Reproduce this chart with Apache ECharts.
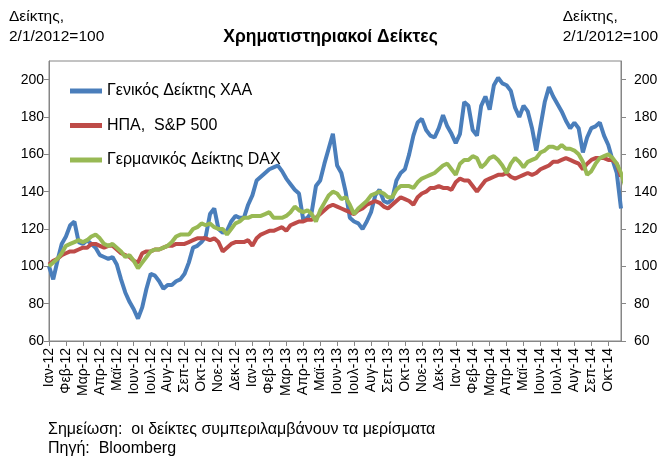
<!DOCTYPE html>
<html>
<head>
<meta charset="utf-8">
<script src="https://cdn.jsdelivr.net/npm/echarts@6/dist/echarts.min.js"></script>
<style>
  html, body { margin: 0; padding: 0; background: #fff; }
  #mychart { width: 661px; height: 459px; }
</style>
</head>
<body>
<div id="mychart"></div>
<script>
// μήνες στον άξονα (4 εβδομαδιαίες τιμές ανά μήνα)
var monthLabels = ['Ιαν-12','Φεβ-12','Μαρ-12','Απρ-12','Μαϊ-12','Ιουν-12','Ιουλ-12','Αυγ-12','Σεπ-12','Οκτ-12','Νοε-12','Δεκ-12',
  'Ιαν-13','Φεβ-13','Μαρ-13','Απρ-13','Μαϊ-13','Ιουν-13','Ιουλ-13','Αυγ-13','Σεπ-13','Οκτ-13','Νοε-13','Δεκ-13',
  'Ιαν-14','Φεβ-14','Μαρ-14','Απρ-14','Μαϊ-14','Ιουν-14','Ιουλ-14','Αυγ-14','Σεπ-14','Οκτ-14'];
var pointsPerMonth = 4;

var athexData = [100,93,103,112,116,122,124,113,112,114,112,110,106,105,104,105,101,93,86,81,77,72,
  78,88,96,95,92,88,90,90,92,93,96,102,110,111,113,116,128,131,120,118,119,124,127,
  126,126,133,138,146,148,150,152,153,154,151,147,144,141,139,125,126,129,143,146,155,163,171,154,
  150,140,126,124,123,120,124,129,138,141,135,134,136,146,150,152,160,170,177,179,173,170,
  169,174,181,175,171,166,171,188,186,173,170,186,191,184,197,201,198,197,194,185,180,186,
  183,174,162,175,188,196,191,187,183,178,174,177,174,161,169,174,175,177,170,165,157,150,131];

var spData = [101,103,104,106,107,108,108,109,110,110,112,112,111,110,111,111,109,107,106,105,103,102,
  107,108,108,109,109,110,111,111,112,112,112,113,114,115,115,115,114,115,113,108,110,112,113,
  113,113,114,111,115,117,118,119,119,120,121,119,122,123,124,124,125,125,126,128,130,132,133,132,
  131,130,129,128,130,131,133,134,135,134,132,131,133,135,137,136,135,133,137,139,140,142,
  142,143,142,142,141,145,147,146,146,143,140,143,146,147,148,149,149,150,148,147,148,149,
  150,149,150,152,153,154,156,156,157,158,157,156,155,152,155,157,158,158,158,157,157,155,148];

var daxData = [100,102,104,107,111,112,113,114,113,114,116,117,115,112,111,112,110,108,105,106,103,99,
  102,105,108,109,109,110,111,113,116,117,117,117,120,121,123,122,123,121,120,120,117,120,123,
  124,126,126,127,127,127,128,129,126,126,126,127,129,132,130,129,130,128,124,130,134,138,140,139,
  136,137,133,128,131,133,135,138,139,140,139,137,137,141,143,143,143,142,145,147,148,149,
  150,152,154,155,152,149,155,157,157,159,158,153,155,158,159,157,154,150,155,158,156,153,156,
  157,158,161,162,164,164,163,165,163,163,162,160,156,149,151,155,158,159,160,158,155,150,143];

var yTicks = [60, 80, 100, 120, 140, 160, 180, 200];
var seriesNames = ['Γενικός Δείκτης ΧΑΑ', 'ΗΠΑ,  S&P 500', 'Γερμανικός Δείκτης DAX'];
var seriesColors = ['#4a7ebb', '#be4b48', '#98b954'];

var categories = [];
for (var m = 0; m < monthLabels.length; m++) {
  for (var w = 0; w < pointsPerMonth; w++) {
    categories.push(w === 0 ? monthLabels[m] : monthLabels[m] + '_' + w);
  }
}

var fontFamily = 'Liberation Sans, Arial, sans-serif';
var axisColor = '#868686';

function valueAxis(pos) {
  return {
    type: 'value',
    position: pos,
    min: 60,
    max: 210,
    interval: 20,
    splitLine: { show: false },
    axisLine: { show: true, lineStyle: { color: axisColor, width: 1 } },
    axisTick: { show: true, length: 5, lineStyle: { color: axisColor }, customValues: yTicks },
    axisLabel: { color: '#000', fontSize: 14, fontFamily: fontFamily, margin: pos == 'left' ? 5 : 13, customValues: yTicks }
  };
}

var seriesList = [athexData, spData, daxData].map(function (d, k) {
  return {
    name: seriesNames[k],
    type: 'line',
    data: d,
    showSymbol: false,
    symbol: 'none',
    color: seriesColors[k],
    lineStyle: { width: 4, color: seriesColors[k] },
    emphasis: { disabled: true }
  };
});

var smallFont = '15.5px ' + fontFamily;

var option = {
  backgroundColor: '#fff',
  animation: false,
  textStyle: { fontFamily: fontFamily },
  title: {
    text: 'Χρηματιστηριακοί Δείκτες', left: 'center', top: 23,
    textStyle: { fontSize: 17.5, fontWeight: 'bold', color: '#000', fontFamily: fontFamily }
  },
  graphic: [
    { type: 'text', left: 9, top: 7,
      style: { text: 'Δείκτης,\n2/1/2012=100', font: smallFont, lineHeight: 20, fill: '#000' } },
    { type: 'text', right: 3, top: 7,
      style: { text: 'Δείκτης,\n2/1/2012=100', font: smallFont, lineHeight: 20, fill: '#000', align: 'right' } },
    { type: 'text', left: 48, top: 420,
      style: { text: 'Σημείωση:  οι δείκτες συμπεριλαμβάνουν τα μερίσματα\nΠηγή:  Bloomberg', font: '16px ' + fontFamily, lineHeight: 19, fill: '#000' } }
  ],
  legend: {
    orient: 'vertical',
    left: 65,
    top: 77,
    itemWidth: 32,
    itemHeight: 5,
    itemGap: 16.5,
    icon: 'rect',
    data: seriesNames,
    textStyle: { fontSize: 16, color: '#000', lineHeight: 18, fontFamily: fontFamily }
  },
  grid: {
    left: 49, right: 40, top: 61, bottom: 118,
    show: true, borderColor: axisColor, borderWidth: 1, backgroundColor: '#fff'
  },
  xAxis: {
    type: 'category',
    data: categories,
    boundaryGap: false,
    axisLine: { lineStyle: { color: axisColor } },
    axisTick: { show: true, length: 5, interval: pointsPerMonth - 1, lineStyle: { color: axisColor } },
    axisLabel: { rotate: 90, interval: pointsPerMonth - 1, color: '#000', fontSize: 14, margin: 7, fontFamily: fontFamily },
    splitLine: { show: false }
  },
  yAxis: [valueAxis('left'), valueAxis('right')],
  series: seriesList
};

var myChart = echarts.init(document.getElementById('mychart'));
myChart.setOption(option);
</script>
</body>
</html>
